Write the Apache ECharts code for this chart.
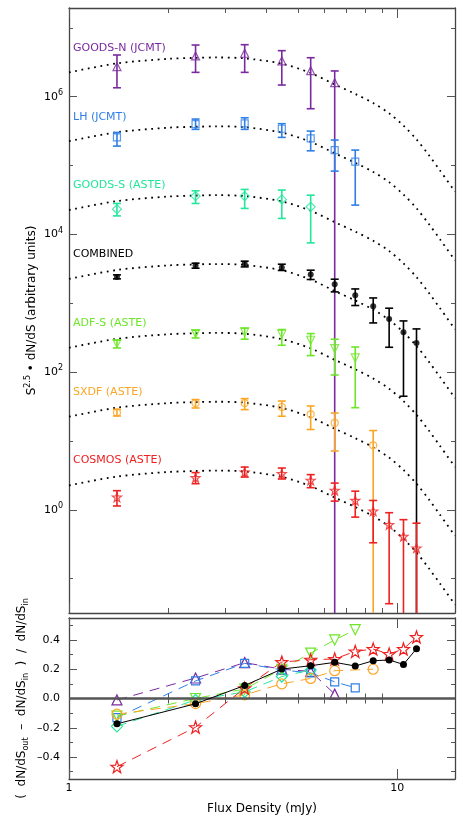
<!DOCTYPE html>
<html>
<head>
<meta charset="utf-8">
<script src="https://cdn.jsdelivr.net/npm/echarts@6/dist/echarts.min.js"></script>
<style>
html, body { margin: 0; padding: 0; background: #fff; }
#chart { width: 463px; height: 820px; }
</style>
</head>
<body>
<div id="chart"></div>
<script>
// flux bins (mJy)
const flux = [1.4, 2.43, 3.43, 4.45, 5.45, 6.45, 7.45, 8.45, 9.45, 10.45, 11.45];

// S^2.5 dN/dS per field + error bar ends (0.01 = bar runs off the bottom)
const goodsN   = [2.73e6, 3.91e6, 4.28e6, 3.33e6, 2.39e6, 1.60e6];
const goodsNLo = [1.35e6, 2.26e6, 2.26e6, 1.48e6, 6.70e5, 0.01];
const goodsNHi = [4.04e6, 5.64e6, 5.70e6, 4.67e6, 3.69e6, 2.37e6];

const lh   = [2.57e5, 4.01e5, 4.10e5, 3.43e5, 2.48e5, 1.68e5, 1.14e5];
const lhLo = [1.92e5, 3.36e5, 3.36e5, 2.57e5, 1.64e5, 8.32e4, 2.67e4];
const lhHi = [3.03e5, 4.74e5, 4.95e5, 4.06e5, 3.17e5, 2.35e5, 1.68e5];

const goodsS   = [2.33e4, 3.61e4, 3.61e4, 3.23e4, 2.52e4];
const goodsSLo = [1.86e4, 2.82e4, 2.39e4, 1.71e4, 7.55e3];
const goodsSHi = [2.82e4, 4.31e4, 4.51e4, 4.41e4, 3.72e4];

const combined   = [2421, 3540, 3741, 3311, 2624, 1897, 1312, 908, 593, 380, 265];
const combinedLo = [2265, 3236, 3381, 2999, 2218, 1466, 929, 519, 230, 44.7, 0.01];
const combinedHi = [2588, 3828, 4093, 3698, 3027, 2239, 1618, 1197, 849, 555, 425];

const adfs   = [261, 364, 384, 356, 291, 220, 161];
const adfsLo = [225, 314, 301, 246, 174, 91, 30.5];
const adfsHi = [291, 406, 435, 416, 364, 301, 232];

const sxdf   = [25.9, 35.6, 35.6, 31.2, 24.4, 18.3, null, 8.67];
const sxdfLo = [23.1, 30.2, 28.6, 22.9, 14.7, 7.16, null, 0.01];
const sxdfHi = [28.9, 40.0, 41.3, 38.1, 32.3, 25.5, null, 14.2];

const cosmos   = [1.53, 2.94, 3.54, 3.36, 2.69, 1.92, 1.37, 0.962, 0.610, 0.412, 0.279];
const cosmosLo = [1.14, 2.40, 3.00, 2.81, 2.10, 1.34, 0.785, 0.333, 0.0434, 0.01, 0.01];
const cosmosHi = [1.90, 3.48, 4.19, 4.05, 3.25, 2.45, 1.87, 1.37, 0.910, 0.721, 0.641];

// model curves (dotted)
const fitFlux = [1, 1.4, 2, 2.43, 2.8, 3.43, 4.45, 5.45, 6.45, 7.45, 8.45, 9.45, 10.45, 11.45, 12.5, 13.5, 15];
const fitGoodsN   = [2.26e6, 3.05e6, 3.55e6, 3.67e6, 3.72e6, 3.61e6, 3.02e6, 2.21e6, 1.51e6, 1.10e6, 8.1e5, 5.75e5, 3.8e5, 2.4e5, 1.41e5, 8.5e4, 4.2e4];
const fitLh       = [2.26e5, 3.05e5, 3.55e5, 3.67e5, 3.72e5, 3.61e5, 3.02e5, 2.21e5, 1.51e5, 1.10e5, 8.1e4, 5.75e4, 3.8e4, 2.4e4, 1.41e4, 8.5e3, 4.2e3];
const fitGoodsS   = [2.26e4, 3.05e4, 3.55e4, 3.67e4, 3.72e4, 3.61e4, 3.02e4, 2.21e4, 1.51e4, 1.10e4, 8100, 5750, 3800, 2400, 1410, 850, 420];
const fitCombined = [2260, 3050, 3550, 3670, 3720, 3610, 3020, 2210, 1510, 1100, 810, 575, 380, 240, 141, 85, 42];
const fitAdfs     = [226, 305, 355, 367, 372, 361, 302, 221, 151, 110, 81, 57.5, 38, 24, 14.1, 8.5, 4.2];
const fitSxdf     = [22.6, 30.5, 35.5, 36.7, 37.2, 36.1, 30.2, 22.1, 15.1, 11.0, 8.1, 5.75, 3.8, 2.4, 1.41, 0.85, 0.42];
const fitCosmos   = [2.26, 3.05, 3.55, 3.67, 3.72, 3.61, 3.02, 2.21, 1.51, 1.10, 0.81, 0.575, 0.38, 0.24, 0.141, 0.085, 0.042];

// (dN/dS_out - dN/dS_in) / dN/dS_in
const goodsNRatio   = [-0.01, 0.14, 0.245, 0.20, 0.185, 0.03];
const lhRatio       = [-0.13, 0.12, 0.24, 0.195, 0.175, 0.114, 0.073];
const goodsSRatio   = [-0.19, -0.01, 0.045, 0.15, 0.195];
const combinedRatio = [-0.173, -0.036, 0.089, 0.201, 0.224, 0.247, 0.222, 0.258, 0.263, 0.233, 0.340];
const adfsRatio     = [-0.12, 0.0, 0.065, 0.20, 0.31, 0.40, 0.47];
const sxdfRatio     = [-0.107, -0.035, 0.025, 0.10, 0.137, 0.19, null, 0.20];
const cosmosRatio   = [-0.466, -0.196, 0.071, 0.249, 0.265, 0.27, 0.322, 0.338, 0.304, 0.338, 0.42];

// tick values
const xMajorTicks = [1, 10];
const xMinorTicks = [2, 3, 4, 5, 6, 7, 8, 9];
const yMajorTicks = [1, 100, 1e4, 1e6];
const yMinorTicks = [0.1, 10, 1e3, 1e5, 1e7];
const rMajorTicks = [-0.4, -0.2, 0, 0.2, 0.4];
const rMinorTicks = [-0.5, -0.3, -0.1, 0.1, 0.3, 0.5];

const FONT = 'DejaVu Sans';
const AXIS_COLOR = '#444';
const TICK_COLOR = '#555';
const STAR = 'path://M0,-10 L2.35,-3.24 L9.51,-3.09 L3.8,1.24 L5.88,8.09 L0,4 L-5.88,8.09 L-3.8,1.24 L-9.51,-3.09 L-2.35,-3.24 Z';

const fields = [
    {name: 'GOODS-N (JCMT)', color: '#7a2a9f', symbol: 'triangle', rot: 0, size: [8, 10], filled: false,
     mid: goodsN, lo: goodsNLo, hi: goodsNHi, ratio: goodsNRatio, fit: fitGoodsN, labelY: 48},
    {name: 'LH (JCMT)', color: '#2f7fe6', symbol: 'rect', rot: 0, size: [7, 8], filled: false,
     mid: lh, lo: lhLo, hi: lhHi, ratio: lhRatio, fit: fitLh, labelY: 117},
    {name: 'GOODS-S (ASTE)', color: '#22e69c', symbol: 'diamond', rot: 0, size: [9, 11], filled: false,
     mid: goodsS, lo: goodsSLo, hi: goodsSHi, ratio: goodsSRatio, fit: fitGoodsS, labelY: 185},
    {name: 'COMBINED', color: '#000000', symbol: 'circle', rot: 0, size: [6, 7], filled: true,
     mid: combined, lo: combinedLo, hi: combinedHi, ratio: combinedRatio, fit: fitCombined, labelY: 254},
    {name: 'ADF-S (ASTE)', color: '#6ee628', symbol: 'triangle', rot: 180, size: [8, 10], filled: false,
     mid: adfs, lo: adfsLo, hi: adfsHi, ratio: adfsRatio, fit: fitAdfs, labelY: 323},
    {name: 'SXDF (ASTE)', color: '#fba526', symbol: 'circle', rot: 0, size: [7, 10], filled: false,
     mid: sxdf, lo: sxdfLo, hi: sxdfHi, ratio: sxdfRatio, fit: fitSxdf, labelY: 392},
    {name: 'COSMOS (ASTE)', color: '#ee2020', symbol: STAR, rot: 0, size: [9, 12], filled: false,
     mid: cosmos, lo: cosmosLo, hi: cosmosHi, ratio: cosmosRatio, fit: fitCosmos, labelY: 460}
];

function symbolStyle(f) {
    return f.filled
        ? {color: f.color}
        : {color: 'rgba(0,0,0,0)', borderColor: f.color, borderWidth: 1.2};
}

// axes: major + minor tick axes on every side of both grids
function xAxes(grid, withLabels) {
    const base = {
        type: 'log', gridIndex: grid, min: 1, max: 15, logBase: 10,
        splitLine: {show: false},
        axisLine: {show: true, onZero: false, lineStyle: {color: AXIS_COLOR, width: 1.3}}
    };
    const out = [];
    ['bottom', 'top'].forEach(function (pos) {
        const major = Object.assign({}, base, {
            position: pos,
            axisTick: {show: true, inside: true, length: 10, customValues: xMajorTicks, lineStyle: {color: TICK_COLOR}},
            axisLabel: {show: false}
        });
        if (withLabels && pos === 'bottom') {
            major.axisLabel = {show: true, customValues: xMajorTicks, margin: 4, color: '#000',
                fontFamily: FONT, fontSize: 11, formatter: function (v) { return String(Math.round(v)); }};
            major.name = 'Flux Density (mJy)';
            major.nameLocation = 'middle';
            major.nameGap = 24;
            major.nameMoveOverlap = false;
            major.nameTextStyle = {fontFamily: FONT, fontSize: 12, color: '#000'};
        }
        out.push(major);
        out.push(Object.assign({}, base, {
            position: pos,
            axisLine: {show: false},
            axisTick: {show: true, inside: true, length: 5, customValues: xMinorTicks, lineStyle: {color: TICK_COLOR}},
            axisLabel: {show: false}
        }));
    });
    return out;
}

function yAxes(grid, base, majors, minors, label, name) {
    const out = [];
    ['left', 'right'].forEach(function (pos) {
        const major = Object.assign({}, base, {
            gridIndex: grid, position: pos,
            splitLine: {show: false},
            axisLine: {show: true, onZero: false, lineStyle: {color: AXIS_COLOR, width: 1.3}},
            axisTick: {show: true, inside: true, length: 8, customValues: majors, lineStyle: {color: TICK_COLOR}},
            axisLabel: {show: false}
        });
        if (pos === 'left') {
            major.axisLabel = label;
            Object.assign(major, name);
        }
        out.push(major);
        out.push(Object.assign({}, base, {
            gridIndex: grid, position: pos,
            splitLine: {show: false},
            axisLine: {show: false},
            axisTick: {show: true, inside: true, length: 4, customValues: minors, lineStyle: {color: TICK_COLOR}},
            axisLabel: {show: false}
        }));
    });
    return out;
}

const topY = yAxes(0, {type: 'log', logBase: 10, min: 0.0318, max: 1.945e7}, yMajorTicks, yMinorTicks,
    {
        show: true, customValues: yMajorTicks, margin: 6,
        formatter: function (v) { return '{b|10}{s|' + Math.round(Math.log10(v)) + '}'; },
        rich: {
            b: {fontFamily: FONT, fontSize: 11, color: '#000', lineHeight: 16},
            s: {fontFamily: FONT, fontSize: 8, color: '#000', lineHeight: 8, verticalAlign: 'top'}
        }
    },
    {
        name: '{t|S}{sup|2.5}{t| • dN/dS (arbitrary units)}',
        nameLocation: 'middle', nameRotate: 90, nameGap: 29, nameMoveOverlap: false,
        nameTextStyle: {
            rich: {
                t: {fontFamily: FONT, fontSize: 12, color: '#000', lineHeight: 16},
                sup: {fontFamily: FONT, fontSize: 8, color: '#000', lineHeight: 8, verticalAlign: 'top'}
            }
        }
    });

const botY = yAxes(1, {type: 'value', min: -0.55, max: 0.55}, rMajorTicks, rMinorTicks,
    {
        show: true, customValues: rMajorTicks, margin: 9, color: '#000',
        fontFamily: FONT, fontSize: 11,
        formatter: function (v) { return v.toFixed(1).replace('-', '\u2013'); }
    },
    {
        name: '{t|(  dN/dS}{sub|out}{t|  \u2013  dN/dS}{sub|in}{t|  )  /  dN/dS}{sub|in}',
        nameLocation: 'middle', nameRotate: 90, nameGap: 39, nameMoveOverlap: false,
        nameTextStyle: {
            rich: {
                t: {fontFamily: FONT, fontSize: 12, color: '#000', lineHeight: 16},
                sub: {fontFamily: FONT, fontSize: 8, color: '#000', lineHeight: 8, verticalAlign: 'bottom'}
            }
        }
    });

// series
const series = [];

// dotted model curves (top panel)
fields.forEach(function (f) {
    series.push({
        type: 'line', xAxisIndex: 0, yAxisIndex: 0,
        data: fitFlux.map(function (x, i) { return [x, f.fit[i]]; }),
        showSymbol: false, smooth: 0.3, silent: true, z: 1,
        lineStyle: {color: '#000', width: 1.8, type: [1.8, 4.6]}
    });
});

// error bars (top panel)
fields.forEach(function (f) {
    const data = [];
    f.mid.forEach(function (v, i) {
        if (v != null) data.push([flux[i], f.lo[i], f.hi[i]]);
    });
    series.push({
        type: 'custom', xAxisIndex: 0, yAxisIndex: 0, z: 2, silent: true,
        data: data,
        renderItem: function (params, api) {
            const cs = params.coordSys;
            const bottom = cs.y + cs.height;
            const pHi = api.coord([api.value(0), api.value(2)]);
            const pLo = api.coord([api.value(0), api.value(1)]);
            const x = pHi[0];
            let yLo = pLo[1];
            const clipped = yLo > bottom;
            if (clipped) yLo = bottom;
            const st = {stroke: f.color, lineWidth: 1.6};
            const kids = [
                {type: 'line', shape: {x1: x, y1: pHi[1], x2: x, y2: yLo}, style: st},
                {type: 'line', shape: {x1: x - 4, y1: pHi[1], x2: x + 4, y2: pHi[1]}, style: st}
            ];
            if (!clipped) {
                kids.push({type: 'line', shape: {x1: x - 4, y1: yLo, x2: x + 4, y2: yLo}, style: st});
            }
            return {type: 'group', children: kids};
        }
    });
});

// data points (top panel)
fields.forEach(function (f) {
    const data = [];
    f.mid.forEach(function (v, i) { if (v != null) data.push([flux[i], v]); });
    series.push({
        type: 'scatter', xAxisIndex: 0, yAxisIndex: 0, z: 3, silent: true,
        data: data, symbol: f.symbol, symbolSize: f.size[0], symbolRotate: f.rot,
        itemStyle: symbolStyle(f)
    });
});

// ratio panel: dashed per field, solid black for combined
fields.forEach(function (f) {
    const data = [];
    f.ratio.forEach(function (v, i) { if (v != null) data.push([flux[i], v]); });
    const isComb = f.name === 'COMBINED';
    const s = {
        type: 'line', xAxisIndex: 4, yAxisIndex: 4, z: isComb ? 5 : 3, silent: true,
        data: data, symbol: f.symbol, symbolSize: f.size[1], symbolRotate: f.rot, showSymbol: true,
        itemStyle: symbolStyle(f),
        lineStyle: {color: f.color, width: 1, type: isComb ? 'solid' : [10, 7]}
    };
    if (isComb) {
        s.markLine = {
            silent: true, symbol: 'none', label: {show: false},
            lineStyle: {color: '#555', width: 2.6, type: 'solid'},
            data: [{yAxis: 0}]
        };
    }
    series.push(s);
});

const chart = echarts.init(document.getElementById('chart'), null, {renderer: 'canvas'});
chart.setOption({
    animation: false,
    backgroundColor: '#fff',
    textStyle: {fontFamily: FONT},
    grid: [
        {left: 69, top: 8, width: 386, height: 605, containLabel: false, outerBoundsMode: 'none'},
        {left: 69, top: 618, width: 386, height: 161, containLabel: false, outerBoundsMode: 'none'}
    ],
    xAxis: xAxes(0, false).concat(xAxes(1, true)),
    yAxis: topY.concat(botY),
    graphic: fields.map(function (f) {
        return {
            type: 'text', x: 73, y: f.labelY, silent: true,
            style: {text: f.name, fill: f.color, fontFamily: FONT, fontSize: 11, verticalAlign: 'middle'}
        };
    }),
    series: series
});
</script>
</body>
</html>
